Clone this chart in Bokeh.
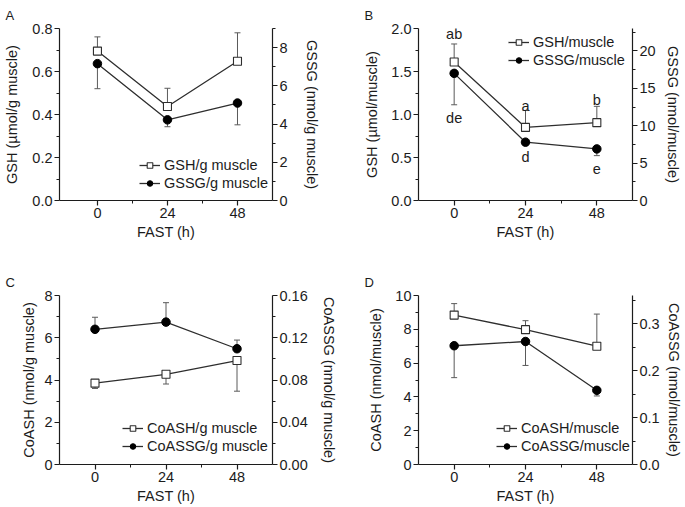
from bokeh.plotting import figure
from bokeh.models import (Range1d, LinearAxis, FixedTicker, Whisker, ColumnDataSource,
                          Legend, LegendItem, PrintfTickFormatter, TeeHead)
from bokeh.layouts import gridplot
from bokeh.core.properties import value
from bokeh.embed import file_html
from bokeh.resources import INLINE

FONT = "Liberation Sans"
INK = "#1c1c1c"
LINE = "#2e2e2e"
ERR = "#5a5a5a"

HOURS = [0, 24, 48]
X_TICKS = [0, 24, 48]
X_MINOR = [12, 36]

# Panel A (left: GSH umol/g, right: GSSG nmol/g)
A_SQ = [0.695, 0.437, 0.648]
A_SQ_ERR = [0.761, 0.522, 0.780]      # upper ends
A_CI = [7.16, 4.22, 5.10]
A_CI_ERR = [5.85, 3.86, 3.96]         # lower ends

# Panel B (left: GSH umol/muscle, right: GSSG nmol/muscle)
B_SQ = [1.61, 0.85, 0.905]
B_SQ_ERR = [1.82, 1.046, 1.095]
B_CI = [17.0, 7.8, 6.9]
B_CI_ERR = [12.8, 7.4, 6.0]
B_LET = ["ab", "a", "b", "de", "d", "e"]
B_LET_X = [0, 24, 48, 0, 24, 48]
B_LET_Y = [1.94, 1.10, 1.17, 0.965, 0.505, 0.37]

# Panel C (left: CoASH nmol/g, right: CoASSG nmol/g)
C_SQ = [3.85, 4.27, 4.92]
C_SQ_ERR = [3.60, 3.81, 3.47]         # lower ends
C_CI = [0.128, 0.1348, 0.1096]
C_CI_ERR = [0.1394, 0.1532, 0.1178]   # upper ends

# Panel D (left: CoASH nmol/muscle, right: CoASSG nmol/muscle)
D_SQ = [8.84, 7.98, 7.0]
D_SQ_ERR = [9.52, 8.51, 8.9]
D_CI = [0.253, 0.262, 0.158]
D_CI_ERR = [0.185, 0.211, 0.146]


def style_axis(ax, size="14.5px", standoff=8):
    ax.axis_line_color = INK
    ax.axis_line_width = 1.2
    ax.major_tick_line_color = INK
    ax.minor_tick_line_color = INK
    ax.major_tick_line_width = 1.2
    ax.minor_tick_line_width = 1
    ax.major_tick_out = 5
    ax.major_tick_in = 0
    ax.minor_tick_out = 3
    ax.minor_tick_in = 0
    ax.major_label_text_font = FONT
    ax.major_label_text_font_size = size
    ax.major_label_text_color = INK
    ax.major_label_standoff = 2
    ax.axis_label_text_font = FONT
    ax.axis_label_text_font_size = size
    ax.axis_label_text_font_style = "normal"
    ax.axis_label_text_color = INK
    ax.axis_label_standoff = standoff


def whisker(xs, lo, hi, up, **kw):
    src = ColumnDataSource(dict(x=xs, lo=lo, hi=hi))
    head = TeeHead(size=6, line_color=ERR, line_width=1)
    return Whisker(source=src, base="x", lower="lo", upper="hi", dimension="height",
                   upper_head=head if up else None, lower_head=None if up else head,
                   line_color=ERR, line_width=1, level="underlay", **kw)


def panel(letter, size, xr, borders, left, right, sq, sq_err, sq_up, ci, ci_err, ci_up,
          names, leg_loc, lstand, rstand):
    w, h = size
    bl, br, bt, bb = borders
    p = figure(width=w, height=h, output_backend="svg", toolbar_location=None,
               x_range=Range1d(*xr), y_range=Range1d(0, left["top"]),
               min_border_left=bl, min_border_right=br, min_border_top=bt,
               min_border_bottom=bb, title=letter)
    p.outline_line_color = None
    p.grid.visible = False
    p.extra_y_ranges = {"right": Range1d(0, right["top"])}

    p.title.align = "left"
    p.title.offset = -54
    p.title.standoff = 11
    p.title.text_font = FONT
    p.title.text_font_size = "13px"
    p.title.text_font_style = "normal"
    p.title.text_color = INK

    xa = p.xaxis[0]
    xa.ticker = FixedTicker(ticks=X_TICKS, minor_ticks=X_MINOR)
    xa.axis_label = "FAST (h)"
    style_axis(xa, standoff=3)

    ya = p.yaxis[0]
    ya.ticker = FixedTicker(ticks=left["ticks"], minor_ticks=left["minor"])
    ya.formatter = PrintfTickFormatter(format=left["fmt"])
    ya.axis_label = left["label"]
    style_axis(ya, standoff=lstand)

    ra = LinearAxis(y_range_name="right")
    ra.ticker = FixedTicker(ticks=right["ticks"], minor_ticks=right["minor"])
    ra.formatter = PrintfTickFormatter(format=right["fmt"])
    ra.axis_label = right["label"]
    style_axis(ra, standoff=rstand)
    p.add_layout(ra, "right")

    # error bars (one-sided)
    if sq_up:
        p.add_layout(whisker(HOURS, sq, sq_err, True))
    else:
        p.add_layout(whisker(HOURS, sq_err, sq, False))
    if ci_up:
        p.add_layout(whisker(HOURS, ci, ci_err, True, y_range_name="right"))
    else:
        p.add_layout(whisker(HOURS, ci_err, ci, False, y_range_name="right"))

    l1 = p.line(HOURS, sq, line_color=LINE, line_width=1.3)
    s1 = p.scatter(HOURS, sq, marker="square", size=8, fill_color="white",
                   line_color=LINE, line_width=1.1)
    l2 = p.line(HOURS, ci, line_color=LINE, line_width=1.3, y_range_name="right")
    s2 = p.scatter(HOURS, ci, marker="circle", size=8.5, fill_color="black",
                   line_color="black", y_range_name="right")

    leg = Legend(items=[LegendItem(label=names[0], renderers=[l1, s1]),
                        LegendItem(label=names[1], renderers=[l2, s2])],
                 location=leg_loc, padding=0, margin=0, spacing=0,
                 label_height=18, glyph_height=14, glyph_width=21, label_standoff=4,
                 label_text_font=FONT, label_text_font_size="14.5px",
                 label_text_color=INK, border_line_color=None,
                 background_fill_alpha=0)
    p.add_layout(leg, "center")
    return p


pA = panel("A", (345, 257), (-13, 60), (58, 73, 28, 57),
           dict(top=0.8, ticks=[0, 0.2, 0.4, 0.6, 0.8], minor=[0.1, 0.3, 0.5, 0.7],
                fmt="%.1f", label="GSH (µmol/g muscle)"),
           dict(top=9, ticks=[0, 2, 4, 6, 8], minor=[1, 3, 5, 7, 9], fmt="%d",
                label="GSSG (nmol/g muscle)"),
           A_SQ, A_SQ_ERR, True, A_CI, A_CI_ERR, False,
           ["GSH/g muscle", "GSSG/g muscle"], (80, 8), 9, 13)

pB = panel("B", (339, 257), (-12, 60), (72, 52, 28, 55),
           dict(top=2.0, ticks=[0, 0.5, 1.0, 1.5, 2.0], minor=[0.25, 0.75, 1.25, 1.75],
                fmt="%.1f", label="GSH (µmol/muscle)"),
           dict(top=23, ticks=[0, 5, 10, 15, 20], minor=[2.5, 7.5, 12.5, 17.5, 22.5],
                fmt="%d", label="GSSG (nmol/muscle)"),
           B_SQ, B_SQ_ERR, True, B_CI, B_CI_ERR, False,
           ["GSH/muscle", "GSSG/muscle"], (90, 131), 8, 6)
pB.text(B_LET_X, B_LET_Y, text=B_LET, text_font=value(FONT), text_font_size="14.5px",
        text_color=INK, text_align="center", text_baseline="middle")

pC = panel("C", (345, 249), (-12, 60), (59, 69, 37, 39),
           dict(top=8, ticks=[0, 2, 4, 6, 8], minor=[1, 3, 5, 7], fmt="%d",
                label="CoASH (nmol/g muscle)"),
           dict(top=0.16, ticks=[0, 0.04, 0.08, 0.12, 0.16], minor=[0.02, 0.06, 0.10, 0.14],
                fmt="%.2f", label="CoASSG (nmol/g muscle)"),
           C_SQ, C_SQ_ERR, False, C_CI, C_CI_ERR, True,
           ["CoASH/g muscle", "CoASSG/g muscle"], (63, 9), 4, 10)

pD = panel("D", (339, 249), (-12, 60), (73, 49, 38, 38),
           dict(top=10, ticks=[0, 2, 4, 6, 8, 10], minor=[1, 3, 5, 7, 9], fmt="%d",
                label="CoASH (nmol/muscle)"),
           dict(top=0.36, ticks=[0, 0.1, 0.2, 0.3], minor=[0.05, 0.15, 0.25, 0.35],
                fmt="%.1f", label="CoASSG (nmol/muscle)"),
           D_SQ, D_SQ_ERR, True, D_CI, D_CI_ERR, False,
           ["CoASH/muscle", "CoASSG/muscle"], (78, 9), 8, 3)

grid = gridplot([[pA, pB], [pC, pD]], toolbar_location=None)

with open("out.html", "w") as f:
    f.write(file_html(grid, INLINE))
